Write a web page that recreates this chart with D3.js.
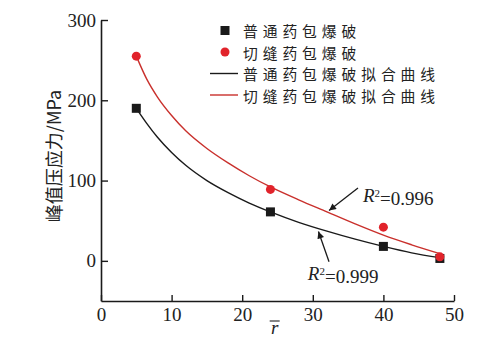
<!DOCTYPE html>
<html><head><meta charset="utf-8">
<script src="https://cdn.jsdelivr.net/npm/d3@7"></script>
<style>
html,body{margin:0;padding:0;background:#fff;}
svg{display:block;}
</style></head>
<body>
<svg id="c" width="499" height="356"></svg>
<script>
// ---- data ----
const normalX = [5, 24, 40, 48];
const normalY = [190, 61, 18, 3];
const slitX = [5, 24, 40, 48];
const slitY = [255, 89, 42, 5];
// fitted curves
const normalFitX = [5, 6.5, 8, 10, 12, 15, 18, 21, 24, 28, 32, 36, 40, 44, 48];
const normalFitY = [190, 171, 154, 135, 119, 100, 85, 72, 61, 48, 37, 27, 18, 10, 4];
const slitFitX = [5, 6.5, 8, 10, 12, 15, 18, 21, 24, 28, 32, 36, 40, 44, 48];
const slitFitY = [255, 226, 204, 181, 162, 140, 122, 106, 92, 76, 61, 46, 32, 20, 9];
const xTicks = [0, 10, 20, 30, 40, 50];
const yTicks = [0, 100, 200, 300];
const legendLabels = ["普通药包爆破", "切缝药包爆破", "普通药包爆破拟合曲线", "切缝药包爆破拟合曲线"];
const r2Labels = ["0.996", "0.999"];

const svg = d3.select("#c");
const x = d3.scaleLinear().domain([0, 50]).range([101, 454]);
const y = d3.scaleLinear().domain([-50, 300]).range([301, 20]);

const black = "#1a1a1a", redPt = "#e1232b", redLine = "#c9302c";
const serif = "'Liberation Serif','DejaVu Serif',serif";
const cjk = "'Noto Sans CJK SC','Noto Sans CJK JP',sans-serif";

// axes
const ax = svg.append("g").attr("transform", `translate(0,${y(-50)})`)
  .call(d3.axisBottom(x).tickValues(xTicks).tickSizeInner(-6).tickSizeOuter(0).tickPadding(6).tickFormat(d3.format("d")));
const ay = svg.append("g").attr("transform", `translate(${x(0)},0)`)
  .call(d3.axisLeft(y).tickValues(yTicks).tickSizeInner(-7).tickSizeOuter(0).tickPadding(5).tickFormat(d3.format("d")));
[ax, ay].forEach(g => {
  g.attr("font-family", serif).attr("font-size", 19);
  g.select(".domain").attr("stroke", black).attr("stroke-width", 1.6);
  g.selectAll(".tick line").attr("stroke", black).attr("stroke-width", 1.4);
  g.selectAll(".tick text").attr("fill", "#222").style("font-family", serif).style("font-size", "19px");
});
ax.selectAll(".tick text").attr("dy", "0.75em");

// y label
svg.append("text")
  .attr("transform", `translate(53,156) rotate(-90)`)
  .attr("text-anchor", "middle").attr("dominant-baseline", "central")
  .style("font-family", cjk).style("font-size", "18px").attr("fill", "#222")
  .text("峰值压应力/MPa");

// x label r with overline
svg.append("text").attr("x", x(24.6)).attr("y", 334).attr("text-anchor", "middle")
  .style("font-family", serif).style("font-style", "italic").style("font-size", "19px").attr("fill", "#222").text("r");
svg.append("line").attr("x1", x(24.6) - 5).attr("x2", x(24.6) + 5).attr("y1", 321).attr("y2", 321)
  .attr("stroke", "#222").attr("stroke-width", 1.1);

// fit curves
const line = d3.line().x(d => x(d[0])).y(d => y(d[1])).curve(d3.curveMonotoneX);
svg.append("path").datum(normalFitX.map((v, i) => [v, normalFitY[i]]))
  .attr("d", line).attr("fill", "none").attr("stroke", black).attr("stroke-width", 1.4);
svg.append("path").datum(slitFitX.map((v, i) => [v, slitFitY[i]]))
  .attr("d", line).attr("fill", "none").attr("stroke", redLine).attr("stroke-width", 1.4);

// points
svg.selectAll("rect.pt").data(normalX.map((v, i) => [v, normalY[i]])).enter().append("rect")
  .attr("class", "pt").attr("x", d => x(d[0]) - 4.5).attr("y", d => y(d[1]) - 4.5)
  .attr("width", 9).attr("height", 9).attr("fill", black);
svg.selectAll("circle.pt").data(slitX.map((v, i) => [v, slitY[i]])).enter().append("circle")
  .attr("class", "pt").attr("cx", d => x(d[0])).attr("cy", d => y(d[1])).attr("r", 4.5).attr("fill", redPt);

// arrows
const defs = svg.append("defs");
defs.append("marker").attr("id", "ah").attr("viewBox", "0 0 10 10").attr("refX", 10).attr("refY", 5)
  .attr("markerWidth", 10).attr("markerHeight", 7).attr("markerUnits", "userSpaceOnUse").attr("orient", "auto")
  .append("path").attr("d", "M0,0 L10,5 L0,10 Z").attr("fill", black);
const arrows = [[[36.4, 90.8], [32.3, 62.8]], [[32.3, -1], [30.8, 36.5]]];
arrows.forEach(a => {
  svg.append("line").attr("x1", x(a[0][0])).attr("y1", y(a[0][1])).attr("x2", x(a[1][0])).attr("y2", y(a[1][1]))
    .attr("stroke", black).attr("stroke-width", 1.3).attr("marker-end", "url(#ah)");
});

// R2 labels
const r2Pos = [[37.1, 73.8], [29.3, -23.7]];
r2Pos.forEach((p, i) => {
  const t = svg.append("text").attr("x", x(p[0])).attr("y", y(p[1]))
    .style("font-family", serif).style("font-size", "19px").attr("fill", "#222");
  t.append("tspan").style("font-style", "italic").text("R");
  t.append("tspan").attr("dy", "-0.45em").style("font-size", "11px").text("2");
  t.append("tspan").attr("dy", "0.45em").text("=" + r2Labels[i]);
});

// legend
const lgY = [30.5, 52, 73.5, 95];
const lg = svg.append("g");
lg.append("rect").attr("x", 225 - 4.5).attr("y", lgY[0] - 4.5).attr("width", 9).attr("height", 9).attr("fill", black);
lg.append("circle").attr("cx", 225).attr("cy", lgY[1]).attr("r", 4.5).attr("fill", redPt);
lg.append("line").attr("x1", 210).attr("x2", 238).attr("y1", lgY[2]).attr("y2", lgY[2]).attr("stroke", black).attr("stroke-width", 1.4);
lg.append("line").attr("x1", 210).attr("x2", 238).attr("y1", lgY[3]).attr("y2", lgY[3]).attr("stroke", redLine).attr("stroke-width", 1.4);
legendLabels.forEach((s, i) => {
  lg.append("text").attr("x", 243).attr("y", lgY[i]).attr("dominant-baseline", "central")
    .style("font-family", cjk).style("font-size", "14.8px").style("letter-spacing", "4.9px").attr("fill", "#222").text(s);
});
</script>
</body></html>
